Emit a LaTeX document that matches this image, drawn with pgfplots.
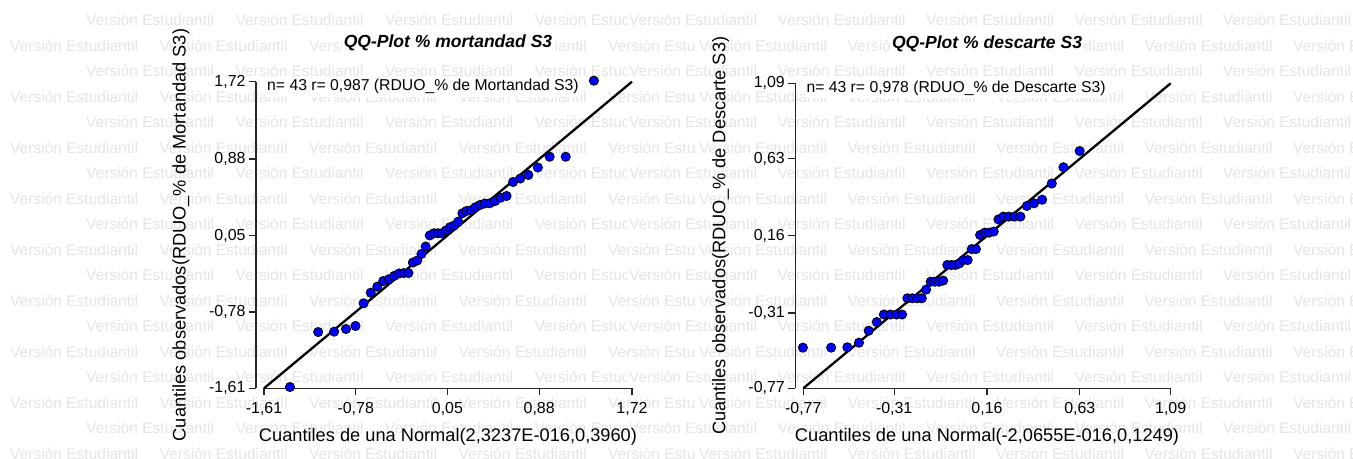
\documentclass[border=0pt]{standalone}
\usepackage{fontspec}
\setmainfont{Liberation Sans}
\usepackage{pgfplots}
\pgfplotsset{compat=1.18}
\usepackage{pgfplotstable}
\definecolor{wm}{RGB}{229,229,229}
\definecolor{ptblue}{RGB}{0,0,255}

\pgfplotstableread{
x y
-1.375 -1.596
-1.120 -0.999
-0.975 -0.995
-0.868 -0.966
-0.782 -0.933
-0.709 -0.687
-0.644 -0.572
-0.585 -0.506
-0.531 -0.445
-0.481 -0.426
-0.433 -0.390
-0.388 -0.363
-0.345 -0.358
-0.303 -0.358
-0.263 -0.244
-0.223 -0.222
-0.185 -0.151
-0.147 -0.070
-0.110 0.050
-0.073 0.074
-0.036 0.074
0.000 0.074
0.036 0.104
0.073 0.139
0.110 0.158
0.147 0.200
0.185 0.291
0.223 0.316
0.263 0.323
0.303 0.356
0.345 0.381
0.388 0.397
0.433 0.399
0.481 0.424
0.531 0.460
0.585 0.479
0.644 0.631
0.709 0.668
0.782 0.707
0.868 0.788
0.975 0.905
1.120 0.905
1.375 1.731
}\dataL

\pgfplotstableread{
x y
-0.772 -0.522
-0.629 -0.522
-0.547 -0.520
-0.488 -0.492
-0.439 -0.419
-0.398 -0.366
-0.362 -0.320
-0.329 -0.320
-0.298 -0.320
-0.270 -0.320
-0.243 -0.221
-0.218 -0.221
-0.194 -0.221
-0.170 -0.221
-0.148 -0.168
-0.125 -0.120
-0.104 -0.120
-0.083 -0.120
-0.062 -0.113
-0.041 -0.018
-0.020 -0.018
0.000 -0.018
0.020 -0.009
0.041 0.012
0.062 0.012
0.083 0.079
0.104 0.079
0.125 0.165
0.148 0.179
0.170 0.179
0.194 0.186
0.218 0.260
0.243 0.277
0.270 0.277
0.298 0.277
0.329 0.277
0.362 0.342
0.398 0.358
0.439 0.380
0.488 0.479
0.547 0.578
0.629 0.677
}\dataR

\pgfplotsset{qq/.style={
  scale only axis, clip=false,
  axis x line*=bottom, axis y line*=left,
  axis y line shift=8bp,
  axis line style={line width=1.3bp, black!85},
  tick align=outside, major tick length=7bp,
  every tick/.style={line width=1.3bp, black!85},
  tick label style={font=\fontsize{16}{19}\selectfont, black},
  xticklabel style={yshift=-3.5bp},
  every axis title/.style={at={(axis description cs:0.5,1)}, anchor=base,
     font=\fontsize{17.6}{20}\selectfont\bfseries\itshape, fill=white, inner sep=1.5bp},
  every axis x label/.style={at={(axis description cs:0.5,0)}, anchor=base,
     yshift=-52.7bp, font=\fontsize{18.3}{21}\selectfont},
  every axis y label/.style={at={(axis description cs:-0.2255,0.5)}, anchor=center,
     rotate=90, font=\fontsize{18.3}{21}\selectfont},
}}

\begin{document}
\begin{tikzpicture}[x=1bp,y=1bp,
  wmnode/.style={anchor=west, inner sep=0pt, text=wm, font=\fontsize{15.6}{18}\selectfont}]
\path[use as bounding box] (0bp,0bp) rectangle (1353bp,459bp);
% watermark, left panel
\begin{scope}
\clip (0bp,0bp) rectangle (627bp,459bp);
\foreach \k in {0,2,...,16}{\foreach \j in {0,...,4}{\node[wmnode] at ({(86+149.5*\j)*1bp},{(439-25.5*\k)*1bp}) {Versión Estudiantil};}}
\end{scope}
\begin{scope}
\clip (0bp,0bp) rectangle (695bp,459bp);
\foreach \k in {1,3,...,17}{\foreach \j in {0,...,4}{\node[wmnode] at ({(10+149.5*\j)*1bp},{(439-25.5*\k)*1bp}) {Versión Estudiantil};}}
\end{scope}
% watermark, right panel
\foreach \k in {0,2,...,16}{\foreach \j in {0,...,4}{\node[wmnode] at ({(629+148.5*\j)*1bp},{(439-25.5*\k)*1bp}) {Versión Estudiantil};}}
\foreach \k in {1,3,...,17}{\foreach \j in {0,...,4}{\node[wmnode] at ({(699+148.5*\j)*1bp},{(439-25.5*\k)*1bp}) {Versión Estudiantil};}}

% left QQ plot
\begin{axis}[qq, at={(264bp,70.7bp)}, anchor=south west,
  width=368bp, height=306.6bp,
  xmin=-1.61, xmax=1.72, ymin=-1.61, ymax=1.72,
  xtick={-1.61,-0.78,0.05,0.88,1.72},
  xticklabels={{-1,61},{-0,78},{0,05},{0,88},{1,72}},
  ytick={-1.61,-0.78,0.05,0.88,1.72},
  yticklabels={{-1,61},{-0,78},{0,05},{0,88},{1,72}},
  title={QQ-Plot \% mortandad S3},
  title style={yshift=33.7bp},
  xlabel={Cuantiles de una Normal(2,3237E-016,0,3960)},
  ylabel={Cuantiles observados(RDUO\_\% de Mortandad S3)},
]
\addplot[line width=2.3bp, black, no marks] coordinates {(-1.61,-1.61) (1.72,1.72)};
\addplot[only marks, mark=*, mark size=4.6bp, mark options={fill=ptblue, draw=black, line width=0.8bp}] table {\dataL};
\node[anchor=base west, xshift=1bp, yshift=-9.3bp, fill=white, inner xsep=2bp, inner ysep=2.5bp,
  font=\fontsize{15.8}{18}\selectfont] at (rel axis cs:0,1) {n= 43 r= 0,987 (RDUO\_\% de Mortandad S3)};
\end{axis}

% right QQ plot
\begin{axis}[qq, at={(803.3bp,70.7bp)}, anchor=south west,
  width=367.4bp, height=305bp,
  xmin=-0.77, xmax=1.09, ymin=-0.77, ymax=1.09,
  xtick={-0.77,-0.31,0.16,0.63,1.09},
  xticklabels={{-0,77},{-0,31},{0,16},{0,63},{1,09}},
  ytick={-0.77,-0.31,0.16,0.63,1.09},
  yticklabels={{-0,77},{-0,31},{0,16},{0,63},{1,09}},
  title={QQ-Plot \% descarte S3},
  title style={yshift=34.3bp},
  xlabel={Cuantiles de una Normal(-2,0655E-016,0,1249)},
  ylabel={Cuantiles observados(RDUO\_\% de Descarte S3)},
  every axis y label/.style={at={(axis description cs:-0.2248,0.5)}, anchor=center,
     rotate=90, font=\fontsize{18.3}{21}\selectfont},
]
\addplot[line width=2.3bp, black, no marks] coordinates {(-0.77,-0.77) (1.09,1.09)};
\addplot[only marks, mark=*, mark size=4.6bp, mark options={fill=ptblue, draw=black, line width=0.8bp}] table {\dataR};
\node[anchor=base west, xshift=1bp, yshift=-9.4bp, fill=white, inner xsep=2bp, inner ysep=2.5bp,
  font=\fontsize{15.8}{18}\selectfont] at (rel axis cs:0,1) {n= 43 r= 0,978 (RDUO\_\% de Descarte S3)};
\end{axis}
\end{tikzpicture}
\end{document}
